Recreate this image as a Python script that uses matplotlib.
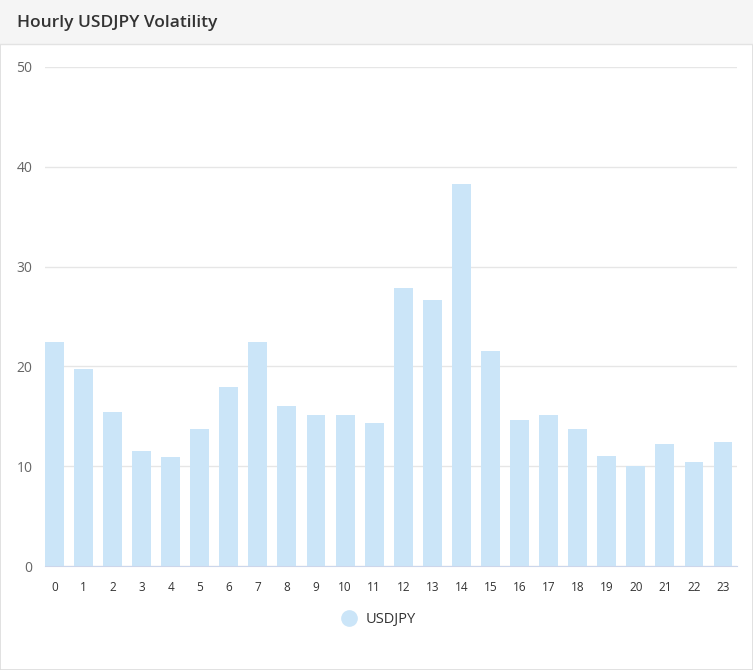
import matplotlib
matplotlib.use("Agg")
import matplotlib.pyplot as plt
from matplotlib.patches import Rectangle
from matplotlib.lines import Line2D

plt.rcParams['font.family'] = ['Open Sans', 'DejaVu Sans']

# hourly volatility values (pips)
hours = [str(h) for h in range(24)]
volatility = [22.4, 19.7, 15.4, 11.5, 10.9, 13.7, 17.9, 22.4, 16.0, 15.1,
              15.1, 14.3, 27.9, 26.7, 38.3, 21.5, 14.6, 15.1, 13.7, 11.0,
              10.0, 12.2, 10.4, 12.4]
y_ticks = [0, 10, 20, 30, 40, 50]
series_name = "USDJPY"
title = "Hourly USDJPY Volatility"

bar_color = "#cbe5f8"

fig = plt.figure(figsize=(7.53, 6.70), dpi=100)
W, H = 753, 670

# card background, header band and borders (drawn behind the axes)
fig.patches.append(Rectangle((0, 0), 1, 1, transform=fig.transFigure,
                             facecolor="white", edgecolor="#dcdcdc", lw=1.2, zorder=-3))
fig.patches.append(Rectangle((0, 1 - 44 / H), 1, 44 / H, transform=fig.transFigure,
                             facecolor="#f5f5f5", edgecolor="none", zorder=-2))
fig.lines.append(Line2D([0, 1], [1 - 44 / H, 1 - 44 / H], transform=fig.transFigure,
                        color="#e3e3e3", lw=1, zorder=-1))
fig.text(17 / W, 1 - 23 / H, title, fontsize=12.5, fontweight="semibold",
         color="#333333", va="center", ha="left")

ax = fig.add_axes([45 / W, 1 - 566 / H, (737 - 45) / W, (566 - 67) / H])
ax.set_zorder(2)
ax.set_facecolor("none")
x = list(range(len(hours)))
ax.bar(x, volatility, width=0.65, color=bar_color, zorder=2)

ax.set_xlim(-0.32, 23.48)
ax.set_ylim(0, 50)
ax.set_yticks(y_ticks)
ax.set_xticks(x)
ax.set_xticklabels(hours)
ax.grid(axis="y", color="#e6e6e6", lw=1, zorder=0)
ax.set_axisbelow(True)
for s in ["top", "right", "left"]:
    ax.spines[s].set_visible(False)
ax.spines["bottom"].set_color("#ccd6eb")
ax.spines["bottom"].set_zorder(3)
ax.tick_params(axis="y", length=0, pad=9, labelsize=10, labelcolor="#666666")
ax.tick_params(axis="x", length=0, pad=11, labelsize=8.5, labelcolor="#333333")

handle = Line2D([], [], marker="o", linestyle="", markersize=11,
                markerfacecolor=bar_color, markeredgecolor=bar_color)
fig.legend([handle], [series_name], loc="center", bbox_to_anchor=(378 / W, 1 - 620 / H),
           frameon=False, fontsize=10.5, labelcolor="#333333", handletextpad=0.6,
           handlelength=1.2)

fig.savefig("out.png", dpi=100)
